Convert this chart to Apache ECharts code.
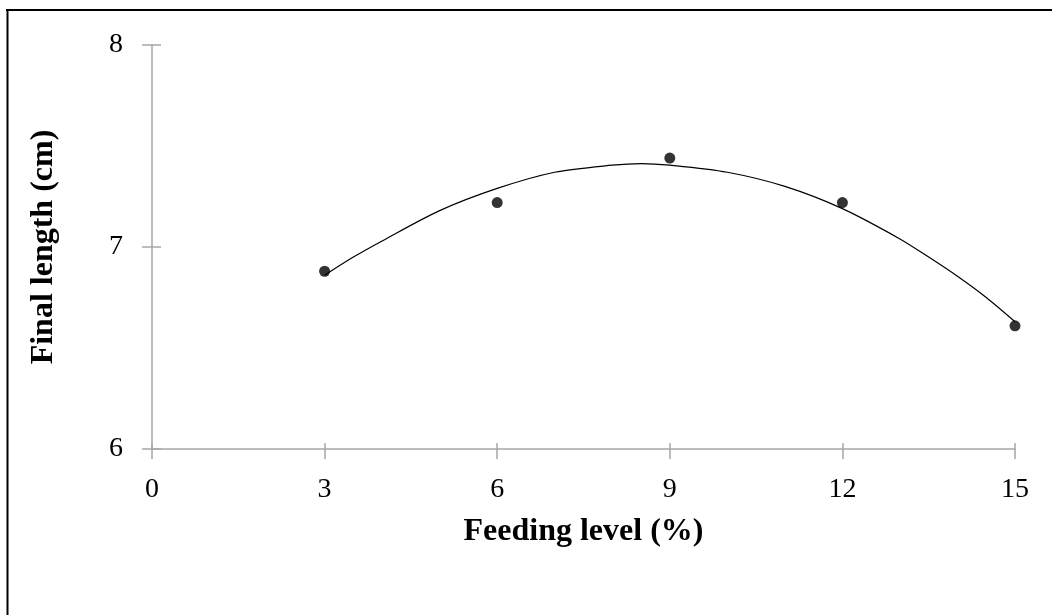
<!DOCTYPE html>
<html>
<head>
<meta charset="utf-8">
<script src="https://cdn.jsdelivr.net/npm/echarts@6/dist/echarts.min.js"></script>
<style>
html,body{margin:0;padding:0;background:#fff;}
#c{width:1052px;height:615px;}
</style>
</head>
<body>
<div id="c"></div>
<script>
// Observed means (feeding level %, final length cm)
const feedingLevels = [3, 6, 9, 12, 15];
const finalLength = [6.88, 7.22, 7.44, 7.22, 6.61];
// Trend curve, values
const trendX = [3, 3.5, 4, 5, 6, 7, 8, 8.5, 9, 10, 11, 12, 13, 13.5, 14, 14.5, 15];
const trendY = [6.86, 6.95, 7.03, 7.18, 7.29, 7.37, 7.405, 7.413, 7.405, 7.37, 7.30, 7.19, 7.04, 6.95, 6.855, 6.75, 6.63];
const xTicks = [0, 3, 6, 9, 12, 15];
const yTicks = [6, 7, 8];
const xTitle = 'Feeding level (%)';
const yTitle = 'Final length (cm)';

const FONT = 'Liberation Serif';
const AXC = '#a6a6a6';

const chart = echarts.init(document.getElementById('c'), null, {renderer: 'canvas'});
const xMin = xTicks[0], xMax = xTicks[xTicks.length - 1], xInt = xTicks[1] - xTicks[0];
const yMin = yTicks[0], yMax = yTicks[yTicks.length - 1], yInt = yTicks[1] - yTicks[0];

chart.setOption({
  animation: false,
  backgroundColor: '#fff',
  grid: {left: 152, right: 37, top: 45, bottom: 166, containLabel: false},
  graphic: [
    {type: 'line', shape: {x1: 6, y1: 10, x2: 1052, y2: 10}, style: {stroke: '#000', lineWidth: 2}, silent: true},
    {type: 'line', shape: {x1: 7.5, y1: 9, x2: 7.5, y2: 615}, style: {stroke: '#000', lineWidth: 2}, silent: true}
  ],
  xAxis: [{
    type: 'value', min: xMin, max: xMax, interval: xInt,
    name: xTitle, nameLocation: 'middle', nameGap: 67,
    nameTextStyle: {fontFamily: FONT, fontSize: 32, fontWeight: 'bold', color: '#000'},
    axisLine: {show: true, lineStyle: {color: AXC, width: 1.5}},
    axisTick: {show: true, length: 10, lineStyle: {color: AXC, width: 1.5}},
    axisLabel: {fontFamily: FONT, fontSize: 28, color: '#000', margin: 27},
    splitLine: {show: false}
  }, {
    type: 'value', min: xMin, max: xMax, interval: xInt, position: 'bottom',
    axisLine: {show: false},
    axisTick: {show: true, inside: true, length: 6, lineStyle: {color: AXC, width: 1.5}},
    axisLabel: {show: false}, splitLine: {show: false}
  }],
  yAxis: [{
    type: 'value', min: yMin, max: yMax, interval: yInt,
    name: yTitle, nameLocation: 'middle', nameGap: 92,
    nameTextStyle: {fontFamily: FONT, fontSize: 32, fontWeight: 'bold', color: '#000'},
    axisLine: {show: true, lineStyle: {color: AXC, width: 1.5}},
    axisTick: {show: true, length: 10, lineStyle: {color: AXC, width: 1.5}},
    axisLabel: {fontFamily: FONT, fontSize: 28, color: '#000', margin: 29},
    splitLine: {show: false}
  }, {
    type: 'value', min: yMin, max: yMax, interval: yInt, position: 'left',
    axisLine: {show: false},
    axisTick: {show: true, inside: true, length: 9, lineStyle: {color: AXC, width: 1.5}},
    axisLabel: {show: false}, splitLine: {show: false}
  }],
  series: [{
    type: 'line',
    data: trendX.map((x, i) => [x, trendY[i]]),
    smooth: 0.3,
    showSymbol: false,
    lineStyle: {color: '#000', width: 1.2},
    silent: true,
    z: 2
  }, {
    type: 'scatter',
    data: feedingLevels.map((x, i) => [x, finalLength[i]]),
    symbol: 'circle',
    symbolSize: 11,
    itemStyle: {color: '#000'},
    z: 3
  }]
});
</script>
</body>
</html>
